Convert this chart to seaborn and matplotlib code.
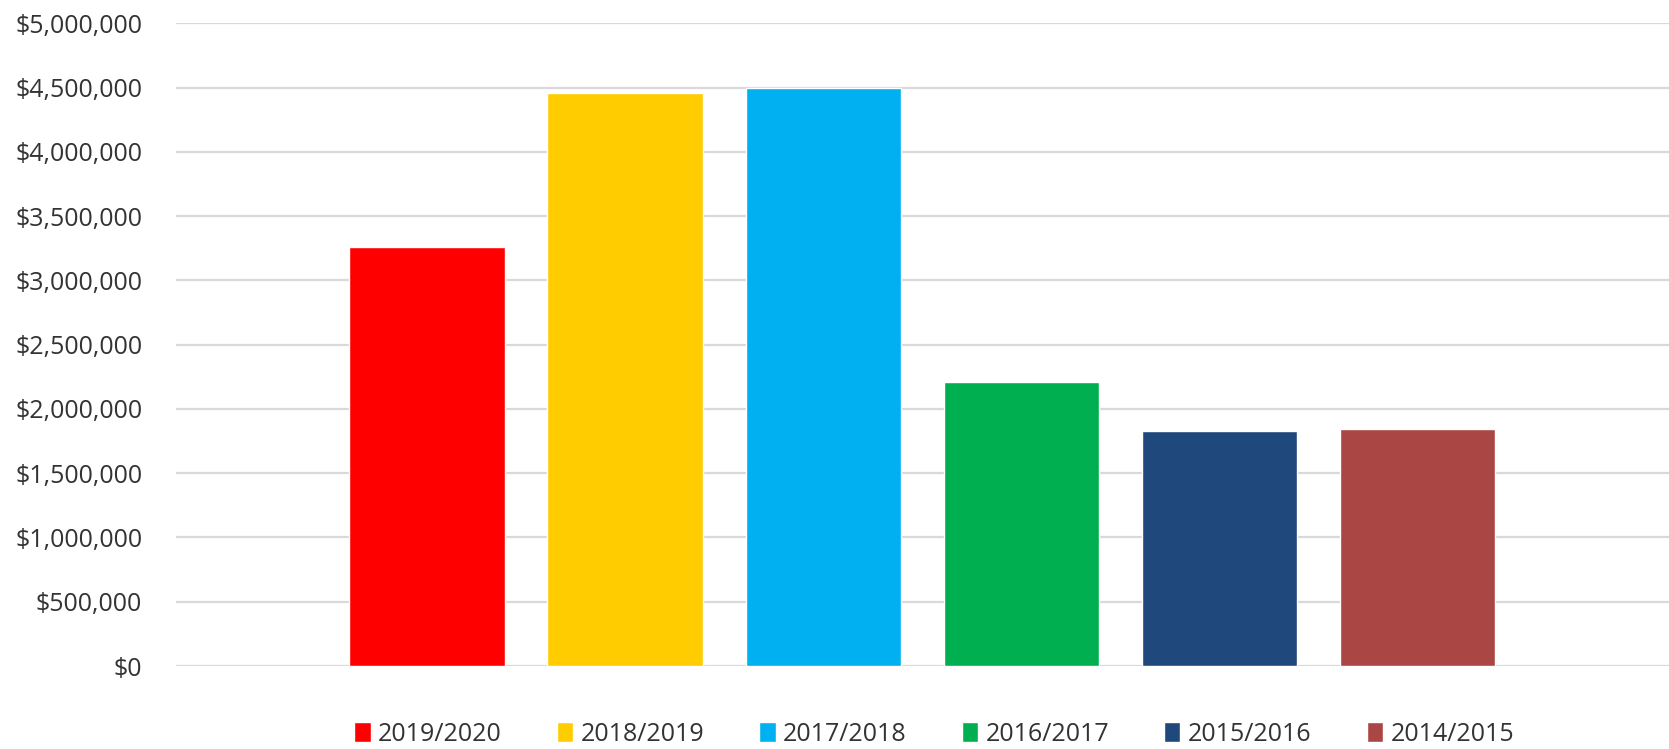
import pandas as pd
import seaborn as sns
import matplotlib
matplotlib.use("Agg")
import matplotlib.pyplot as plt
from matplotlib.ticker import FuncFormatter, MultipleLocator

seasons = ["2019/2020", "2018/2019", "2017/2018", "2016/2017", "2015/2016", "2014/2015"]
amounts = [3260000, 4460000, 4495000, 2210000, 1830000, 1845000]
colors = ["#FF0000", "#FFCC00", "#00B0F0", "#00B050", "#1F497D", "#AA4643"]

df = pd.DataFrame({"season": seasons, "amount": amounts})

sns.set_style("white")
plt.rcParams["font.family"] = ["Open Sans", "DejaVu Sans"]
plt.rcParams["font.size"] = 18

fig = plt.figure(figsize=(16.69, 7.49), dpi=100)
ax = fig.add_axes([0.1052, 0.1108, 0.8948, 0.858])

sns.barplot(data=df, x="season", y="amount", hue="season", order=seasons,
            hue_order=seasons, palette=colors, width=0.785, legend=True,
            saturation=1, ax=ax, zorder=3)

ax.set_ylim(0, 5000000)
ax.set_xlim(-1.27, 6.27)
ax.yaxis.set_major_locator(MultipleLocator(500000))
ax.yaxis.set_major_formatter(FuncFormatter(lambda v, p: f"${v:,.0f}"))
ax.grid(axis="y", color="#d9d9d9", lw=1.6, zorder=0)
ax.set_axisbelow(True)
ax.set_xticks([])
ax.set_xlabel("")
ax.set_ylabel("")
ax.tick_params(axis="y", length=0, pad=24, labelsize=18, labelcolor="#333333")
for s in ax.spines.values():
    s.set_visible(False)

sns.move_legend(ax, "center", bbox_to_anchor=(0.508, -0.106), ncol=6,
                frameon=False, title=None, fontsize=18,
                handlelength=0.65, handleheight=0.8, handletextpad=0.3,
                columnspacing=2.2)
for t in ax.get_legend().get_texts():
    t.set_color("#333333")

fig.savefig("out.png", dpi=100)
